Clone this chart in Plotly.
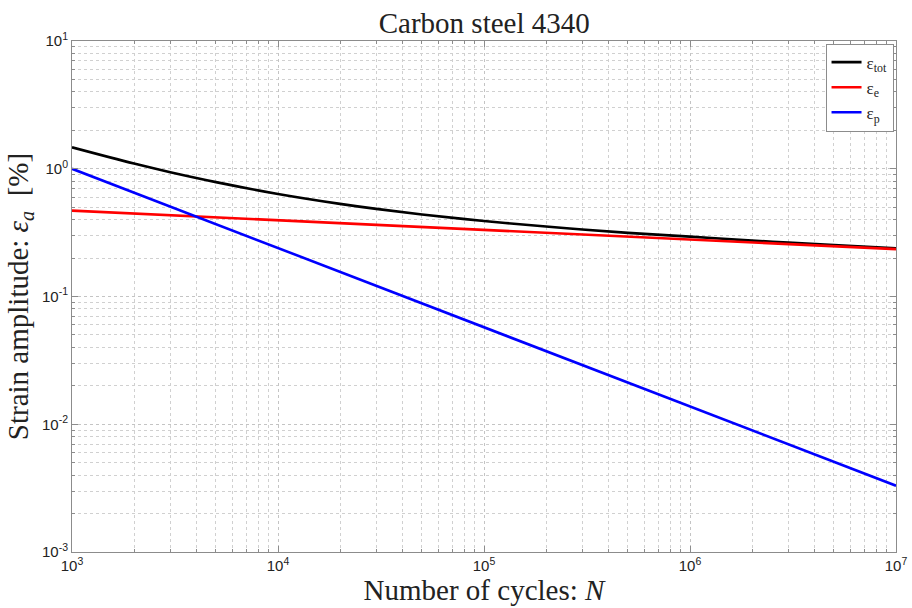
import plotly.graph_objects as go

cycles = [1e3, 2e3, 3e3, 5e3, 1e4, 2e4, 3e4, 5e4, 1e5, 2e5, 3e5, 5e5,
          1e6, 2e6, 3e6, 5e6, 1e7]
eps_e = [0.470, 0.446, 0.433, 0.417, 0.395, 0.375, 0.364, 0.350, 0.332,
         0.315, 0.306, 0.294, 0.280, 0.265, 0.257, 0.248, 0.235]
eps_p = [1.00, 0.651, 0.506, 0.369, 0.240, 0.156, 0.121, 0.0886, 0.0576,
         0.0375, 0.0291, 0.0213, 0.0138, 0.0090, 0.0070, 0.0051, 0.0033]
eps_tot = [1.47, 1.097, 0.939, 0.786, 0.635, 0.531, 0.485, 0.439, 0.390,
           0.353, 0.335, 0.315, 0.294, 0.274, 0.264, 0.253, 0.238]

x_ticks = [1e3, 1e4, 1e5, 1e6, 1e7]
x_ticktext = ["10<sup>3</sup>", "10<sup>4</sup>", "10<sup>5</sup>", "10<sup>6</sup>", "10<sup>7</sup>"]
y_ticks = [1e-3, 1e-2, 1e-1, 1e0, 1e1]
y_ticktext = ["10<sup>-3</sup>", "10<sup>-2</sup>", "10<sup>-1</sup>", "10<sup>0</sup>", "10<sup>1</sup>"]

x_minor = [m * d for d in x_ticks[:-1] for m in range(2, 10)]
y_minor = [m * d for d in y_ticks[:-1] for m in range(2, 10)]

serif = "Liberation Serif, DejaVu Serif, serif"
sans = "Liberation Sans, Arial, sans-serif"

fig = go.Figure()
fig.add_trace(go.Scatter(x=cycles, y=eps_tot, mode="lines", name="ε<sub>tot</sub>",
                         line=dict(color="black", width=2.6, shape="spline")))
fig.add_trace(go.Scatter(x=cycles, y=eps_e, mode="lines", name="ε<sub>e</sub>",
                         line=dict(color="#ff0000", width=2.6)))
fig.add_trace(go.Scatter(x=cycles, y=eps_p, mode="lines", name="ε<sub>p</sub>",
                         line=dict(color="#0000ff", width=2.6)))


def axis_common(minor_vals):
    return dict(
        showline=True, linecolor="#8c8c8c", linewidth=1, mirror="ticks",
        ticks="inside", ticklen=6, tickcolor="#8c8c8c",
        showgrid=True, gridcolor="#c4c4c4", griddash="dot", gridwidth=1,
        zeroline=False, automargin=False,
        tickfont=dict(family=sans, size=15, color="#222"),
        minor=dict(tickmode="array", tickvals=minor_vals,
                   ticks="inside", ticklen=3, tickcolor="#8c8c8c",
                   showgrid=True, gridcolor="#d0d0d0", griddash="dot", gridwidth=1),
    )


fig.update_xaxes(type="log", range=[3, 7], tickvals=x_ticks, ticktext=x_ticktext,
                 title=dict(text="Number of cycles: <i>N</i>",
                            font=dict(family=serif, size=29, color="#222"), standoff=2),
                 **axis_common(x_minor))
fig.update_yaxes(type="log", range=[-3, 1], tickvals=y_ticks, ticktext=y_ticktext,
                 title=dict(text="Strain amplitude: <i>ε<sub>a</sub></i>  [%]",
                            font=dict(family=serif, size=29, color="#222"), standoff=4),
                 **axis_common(y_minor))

fig.update_layout(
    width=912, height=608,
    margin=dict(l=72, r=16, t=41, b=56),
    paper_bgcolor="white", plot_bgcolor="white",
    title=dict(text="Carbon steel 4340", x=0.531, xanchor="center", y=0.962, yanchor="middle",
               font=dict(family=serif, size=29, color="#222")),
    legend=dict(x=0.997, y=0.995, xanchor="right", yanchor="top",
                bgcolor="white", bordercolor="#8c8c8c", borderwidth=1,
                font=dict(family=serif, size=17, color="#222"),
                tracegroupgap=0, itemwidth=30),
    showlegend=True,
)

fig.write_html("out.html")
